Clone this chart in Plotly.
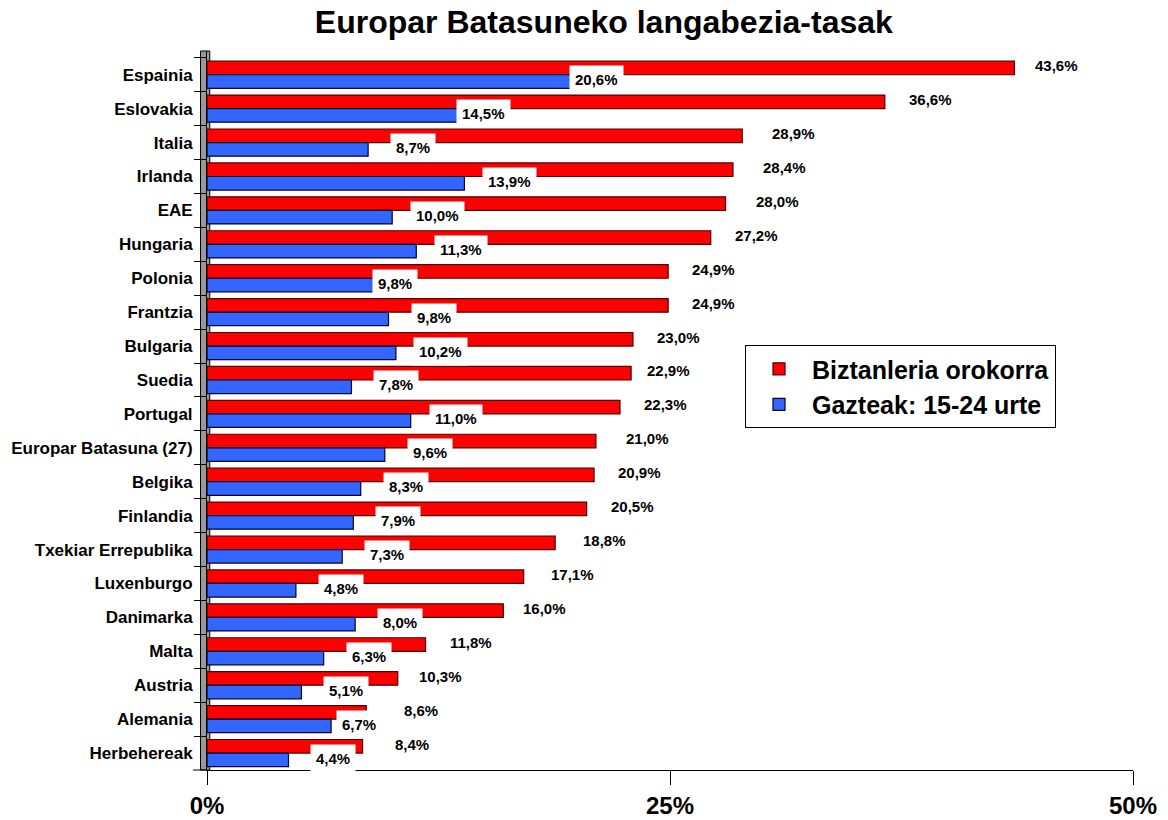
import plotly.graph_objects as go

categories = ["Espainia", "Eslovakia", "Italia", "Irlanda", "EAE", "Hungaria", "Polonia",
              "Frantzia", "Bulgaria", "Suedia", "Portugal", "Europar Batasuna (27)", "Belgika",
              "Finlandia", "Txekiar Errepublika", "Luxenburgo", "Danimarka", "Malta", "Austria",
              "Alemania", "Herbehereak"]
general = [43.6, 36.6, 28.9, 28.4, 28.0, 27.2, 24.9, 24.9, 23.0, 22.9, 22.3, 21.0, 20.9,
           20.5, 18.8, 17.1, 16.0, 11.8, 10.3, 8.6, 8.4]
youth = [20.6, 14.5, 8.7, 13.9, 10.0, 11.3, 9.8, 9.8, 10.2, 7.8, 11.0, 9.6, 8.3,
         7.9, 7.3, 4.8, 8.0, 6.3, 5.1, 6.7, 4.4]
series_names = ["Biztanleria orokorra", "Gazteak: 15-24 urte"]
tick_vals = [0, 25, 50]
tick_text = ["0%", "25%", "50%"]

# label placement style (pixel nudges, as placed in the original)
red_nudge = {"Espainia": -3, "Italia": 6, "Irlanda": 6, "EAE": 6, "Suedia": -8,
             "Europar Batasuna (27)": 6, "Txekiar Errepublika": 4, "Luxenburgo": 3,
             "Danimarka": -4, "Austria": -3, "Alemania": 14, "Herbehereak": 8}
blue_nudge = {"Espainia": -37, "Eslovakia": -37, "Polonia": -39, "Alemania": -17}

FONT = "Arial, Liberation Sans, sans-serif"


def fmt(v):
    return f"{v:.1f}".replace(".", ",") + "%"


fig = go.Figure()
fig.add_trace(go.Bar(y=categories, x=general, orientation="h",
                     name="<b>" + series_names[0] + "</b>",
                     marker=dict(color="#FF0000", line=dict(color="#500000", width=1.2))))
fig.add_trace(go.Bar(y=categories, x=youth, orientation="h",
                     name="<b>" + series_names[1] + "</b>",
                     marker=dict(color="#3366FF", line=dict(color="#000033", width=1.2))))

annotations = []
for c, g, y in zip(categories, general, youth):
    annotations.append(dict(x=g, y=c, xref="x", yref="y", text="<b>" + fmt(g) + "</b>",
                            showarrow=False, xanchor="left",
                            xshift=22 + red_nudge.get(c, 0), yshift=9,
                            font=dict(family=FONT, size=15, color="black")))
    annotations.append(dict(x=y, y=c, xref="x", yref="y", text="<b>" + fmt(y) + "</b>",
                            showarrow=False, xanchor="center",
                            xshift=45 + blue_nudge.get(c, 0), yshift=-5,
                            bgcolor="white", borderpad=5,
                            font=dict(family=FONT, size=15, color="black")))

fig.update_layout(
    width=1168, height=820,
    margin=dict(l=207, r=35, t=51, b=50),
    paper_bgcolor="white", plot_bgcolor="white",
    title=dict(text="<b>Europar Batasuneko langabezia-tasak</b>", x=0.517, xanchor="center",
               y=0.973, yanchor="middle", font=dict(family=FONT, size=32, color="black")),
    barmode="group", bargap=0.2, bargroupgap=0,
    xaxis=dict(range=[0, 50], tickvals=tick_vals,
               ticktext=["<b>" + t + "</b>" for t in tick_text], showgrid=False,
               zeroline=False, showline=True, linecolor="black", linewidth=1,
               ticks="outside", ticklen=14, tickcolor="black", automargin=False,
               tickfont=dict(family=FONT, size=24, color="black")),
    yaxis=dict(range=[20.5, -0.7], showgrid=False, showline=True, linecolor="black",
               ticks="outside", tickson="boundaries", ticklen=12, tickcolor="black",
               automargin=False, tickprefix="<b>", ticksuffix="</b>",
               tickfont=dict(family=FONT, size=17, color="black"), ticklabelstandoff=10),
    legend=dict(x=0.581, y=0.591, xanchor="left", yanchor="top", bgcolor="white",
                bordercolor="black", borderwidth=1,
                font=dict(family=FONT, size=25, color="black"),
                itemwidth=56, tracegroupgap=0),
    annotations=annotations,
    shapes=[
        dict(type="rect", xref="paper", yref="paper", x0=-0.007, x1=0.003, y0=0, y1=1.0,
             fillcolor="#999999", line=dict(color="black", width=1), layer="below"),
        dict(type="line", xref="paper", yref="paper", x0=-0.015, x1=0, y0=0, y1=0,
             line=dict(color="black", width=1)),
    ],
)
fig.write_html("out.html", config={"displayModeBar": False},
               post_script="document.body.style.margin='0';")
